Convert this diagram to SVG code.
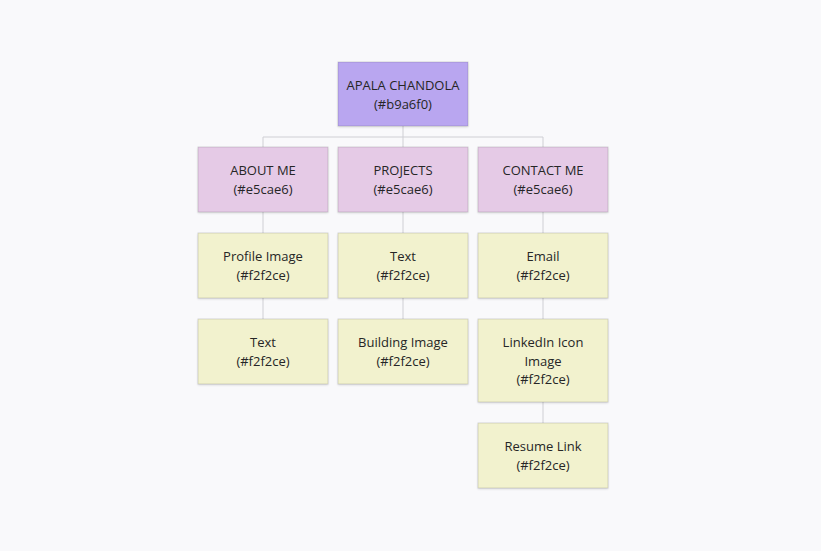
<svg xmlns="http://www.w3.org/2000/svg" width="821" height="551" viewBox="0 0 821 551">
<defs>
<filter id="sh" x="-10%" y="-10%" width="130%" height="130%">
<feDropShadow dx="0" dy="1" stdDeviation="1.2" flood-color="#000" flood-opacity="0.15"/>
</filter>
<style>
.n rect{stroke:rgba(0,0,0,0.13);stroke-width:1;filter:url(#sh)}
.r rect{fill:#b9a6f0}
.s rect{fill:#e5cae6}
.l rect{fill:#f2f2ce}
text{font-family:"Open Sans","Noto Sans",sans-serif;font-size:13px;fill:#262626;text-anchor:middle}
.c line{stroke:#cfcfd4;stroke-width:1}
</style>
</defs>
<rect x="0" y="0" width="821" height="551" fill="#f9f9fb"/>
<g id="connectors" class="c">
<line x1="403" y1="126" x2="403" y2="137"/>
<line x1="263" y1="137" x2="543" y2="137"/>
<line x1="263" y1="137" x2="263" y2="147"/>
<line x1="403" y1="137" x2="403" y2="147"/>
<line x1="543" y1="137" x2="543" y2="147"/>
<line x1="263" y1="212" x2="263" y2="233"/>
<line x1="263" y1="298" x2="263" y2="319"/>
<line x1="403" y1="212" x2="403" y2="233"/>
<line x1="403" y1="298" x2="403" y2="319"/>
<line x1="543" y1="212" x2="543" y2="233"/>
<line x1="543" y1="298" x2="543" y2="319"/>
<line x1="543" y1="402" x2="543" y2="423"/>
</g>
<g id="root" class="n r"><rect x="338" y="62" width="130" height="64"/><text x="403" y="90">APALA CHANDOLA</text><text x="403" y="109">(#b9a6f0)</text></g>
<g id="about" class="n s"><rect x="198" y="147" width="130" height="65"/><text x="263" y="175">ABOUT ME</text><text x="263" y="194">(#e5cae6)</text></g>
<g id="projects" class="n s"><rect x="338" y="147" width="130" height="65"/><text x="403" y="175">PROJECTS</text><text x="403" y="194">(#e5cae6)</text></g>
<g id="contact" class="n s"><rect x="478" y="147" width="130" height="65"/><text x="543" y="175">CONTACT ME</text><text x="543" y="194">(#e5cae6)</text></g>
<g id="profile" class="n l"><rect x="198" y="233" width="130" height="65"/><text x="263" y="261">Profile Image</text><text x="263" y="280">(#f2f2ce)</text></g>
<g id="about-text" class="n l"><rect x="198" y="319" width="130" height="65"/><text x="263" y="347">Text</text><text x="263" y="366">(#f2f2ce)</text></g>
<g id="proj-text" class="n l"><rect x="338" y="233" width="130" height="65"/><text x="403" y="261">Text</text><text x="403" y="280">(#f2f2ce)</text></g>
<g id="building" class="n l"><rect x="338" y="319" width="130" height="65"/><text x="403" y="347">Building Image</text><text x="403" y="366">(#f2f2ce)</text></g>
<g id="email" class="n l"><rect x="478" y="233" width="130" height="65"/><text x="543" y="261">Email</text><text x="543" y="280">(#f2f2ce)</text></g>
<g id="linkedin" class="n l"><rect x="478" y="319" width="130" height="83"/><text x="543" y="347">LinkedIn Icon</text><text x="543" y="366">Image</text><text x="543" y="384">(#f2f2ce)</text></g>
<g id="resume" class="n l"><rect x="478" y="423" width="130" height="65"/><text x="543" y="451">Resume Link</text><text x="543" y="470">(#f2f2ce)</text></g>
</svg>
